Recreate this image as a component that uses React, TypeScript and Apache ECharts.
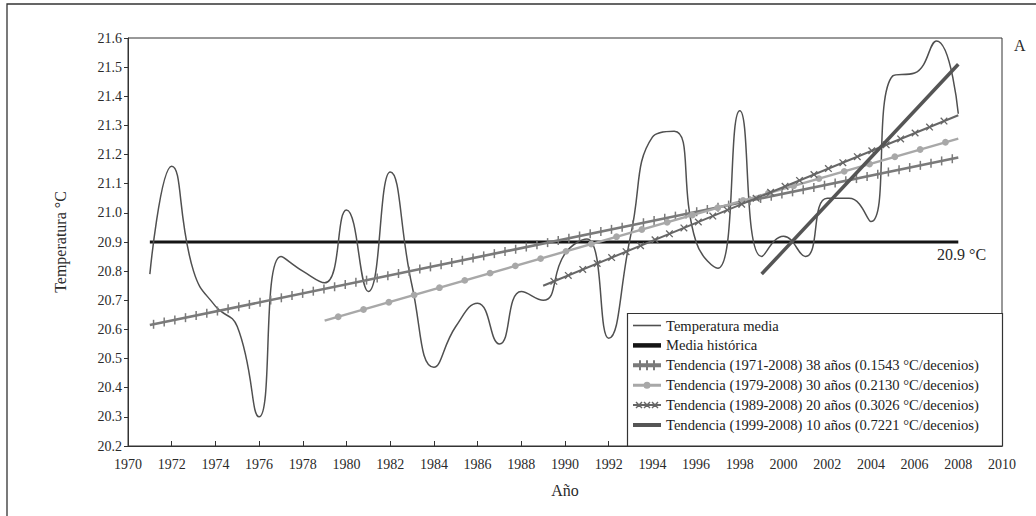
import React, { useEffect, useRef } from "react";
import * as echarts from "echarts";

const years = [1971, 1972, 1973, 1974, 1975, 1976, 1977, 1978, 1979, 1980, 1981, 1982, 1983, 1984, 1985, 1986, 1987, 1988, 1989, 1990, 1991, 1992, 1993, 1994, 1995, 1996, 1997, 1998, 1999, 2000, 2001, 2002, 2003, 2004, 2005, 2006, 2007, 2008];
const temps = [20.79, 21.16, 20.8, 20.68, 20.61, 20.3, 20.85, 20.8, 20.76, 21.01, 20.73, 21.14, 20.75, 20.47, 20.61, 20.69, 20.55, 20.73, 20.7, 20.86, 20.91, 20.57, 20.92, 21.26, 21.28, 20.9, 20.81, 21.35, 20.85, 20.92, 20.85, 21.05, 21.05, 20.97, 21.47, 21.48, 21.59, 21.34];
const mediaHistorica = [[1971, 20.9], [2008, 20.9]];
const trend1 = [1971, 20.615, 2008, 21.19];
const trend2 = [1979, 20.63, 2008, 21.255];
const trend3 = [1989, 20.75, 2008, 21.335];
const trend4 = [[1999, 20.79], [2008, 21.51]];

const names = [
  "Temperatura media",
  "Media histórica",
  "Tendencia (1971-2008) 38 años (0.1543 °C/decenios)",
  "Tendencia (1979-2008) 30 años (0.2130 °C/decenios)",
  "Tendencia (1989-2008) 20 años (0.3026 °C/decenios)",
  "Tendencia (1999-2008) 10 años (0.7221 °C/decenios)",
];

const FONT = "'Liberation Serif', 'DejaVu Serif', serif";

const cross = (cx: number, cy: number) =>
  `M${cx - 3.5},${cy - 2.5}L${cx - 2.5},${cy - 3.5}L${cx + 3.5},${cy + 2.5}L${cx + 2.5},${cy + 3.5}Z` +
  `M${cx + 2.5},${cy - 3.5}L${cx + 3.5},${cy - 2.5}L${cx - 2.5},${cy + 3.5}L${cx - 3.5},${cy + 2.5}Z`;

const icons = [
  "path://M0,0H28V1.6H0Z",
  "path://M0,0H28V4.5H0Z",
  "path://M0,3H28V7H0Z M6,0H8V10H6Z M13,0H15V10H13Z M20,0H22V10H20Z",
  "path://M0,3.5H28V6.5H0Z M10.5,5A3.5,3.5 0 1 1 17.5,5A3.5,3.5 0 1 1 10.5,5Z",
  "path://M0,4H28V6H0Z" + cross(6, 5) + cross(14, 5) + cross(22, 5),
  "path://M0,0H28V4H0Z",
];
const colors = ["#505050", "#151515", "#7a7a7a", "#a8a8a8", "#666666", "#555555"];

function makeRender(kind: string, color: string, lineWidth: number, offset: number, step: number) {
  return (params: any, api: any) => {
    const p1 = api.coord([api.value(0), api.value(1)]);
    const p2 = api.coord([api.value(2), api.value(3)]);
    const children: any[] = [
      { type: "line", shape: { x1: p1[0], y1: p1[1], x2: p2[0], y2: p2[1] }, style: { stroke: color, lineWidth } },
    ];
    const dx = p2[0] - p1[0];
    const dy = p2[1] - p1[1];
    for (let x = p1[0] + offset; x <= p2[0] - 1; x += step) {
      const y = p1[1] + ((x - p1[0]) / dx) * dy;
      if (kind === "tick") {
        children.push({ type: "line", shape: { x1: x, y1: y - 4.5, x2: x, y2: y + 4.5 }, style: { stroke: color, lineWidth: 1.5 } });
      } else if (kind === "dot") {
        children.push({ type: "circle", shape: { cx: x, cy: y, r: 3.4 }, style: { fill: color } });
      } else {
        children.push({ type: "line", shape: { x1: x - 3.3, y1: y - 3.3, x2: x + 3.3, y2: y + 3.3 }, style: { stroke: color, lineWidth: 1.3 } });
        children.push({ type: "line", shape: { x1: x - 3.3, y1: y + 3.3, x2: x + 3.3, y2: y - 3.3 }, style: { stroke: color, lineWidth: 1.3 } });
      }
    }
    return { type: "group", children };
  };
}

export default function App() {
  const ref = useRef<HTMLDivElement>(null);
  useEffect(() => {
    if (!ref.current) return;
    const chart = echarts.init(ref.current, null, { renderer: "svg" });
    const labelStyle = { fontFamily: FONT, fontSize: 14, color: "#2a2a2a" };
    chart.setOption({
      animation: false,
      backgroundColor: "#ffffff",
      grid: { left: 128, right: 34, top: 38, bottom: 70, show: true, borderColor: "#333", borderWidth: 1 },
      xAxis: {
        type: "value",
        min: 1970,
        max: 2010,
        interval: 2,
        name: "Año",
        nameLocation: "middle",
        nameGap: 36,
        nameTextStyle: { fontFamily: FONT, fontSize: 16, color: "#2a2a2a" },
        axisLine: { show: true, lineStyle: { color: "#333", width: 1 } },
        axisTick: { show: true, inside: true, length: 5, lineStyle: { color: "#333" } },
        axisLabel: { ...labelStyle, margin: 11, formatter: (v: number) => String(v) },
        splitLine: { show: false },
      },
      yAxis: {
        type: "value",
        min: 20.2,
        max: 21.6,
        interval: 0.1,
        name: "Temperatura °C",
        nameLocation: "middle",
        nameRotate: 90,
        nameGap: 60,
        nameTextStyle: { fontFamily: FONT, fontSize: 16, color: "#2a2a2a" },
        axisLine: { show: true, lineStyle: { color: "#333", width: 1 } },
        axisTick: { show: true, inside: false, length: 4, lineStyle: { color: "#333" } },
        axisLabel: { ...labelStyle, margin: 6, formatter: (v: number) => v.toFixed(1) },
        splitLine: { show: false },
      },
      legend: {
        orient: "vertical",
        left: 633,
        top: 318,
        itemWidth: 28,
        itemHeight: 10,
        itemGap: 4.9,
        padding: 0,
        z: 10,
        itemStyle: { borderWidth: 0 },
        textStyle: { fontFamily: FONT, fontSize: 14.6, color: "#222", lineHeight: 14 },
        data: names.map((n, i) => ({ name: n, icon: icons[i], itemStyle: { color: colors[i], borderWidth: 0 } })),
      },
      graphic: [
        { type: "rect", shape: { x: 7, y: 4, width: 1200, height: 700 }, style: { fill: "none", stroke: "#333", lineWidth: 1.3 }, z: 1 },
        { type: "rect", shape: { x: 627.5, y: 313.5, width: 375, height: 132.5 }, style: { fill: "#fff", stroke: "#333", lineWidth: 1.2 }, z: 5 },
        { type: "text", x: 937, y: 254, style: { text: "20.9 °C", fontFamily: FONT, fontSize: 16, fill: "#2a2a2a", verticalAlign: "middle" }, z: 6 },
        { type: "text", x: 1014, y: 45, style: { text: "A", fontFamily: FONT, fontSize: 16, fill: "#2a2a2a", verticalAlign: "middle" }, z: 6 },
      ],
      series: [
        {
          name: names[1],
          type: "line",
          data: mediaHistorica,
          symbol: "none",
          lineStyle: { color: colors[1], width: 3 },
          itemStyle: { color: colors[1] },
          z: 2,
        },
        {
          name: names[0],
          type: "line",
          data: years.map((y, i) => [y, temps[i]]),
          smooth: 0.5,
          symbol: "none",
          lineStyle: { color: colors[0], width: 1.5 },
          itemStyle: { color: colors[0] },
          z: 3,
        },
        {
          name: names[2],
          type: "custom",
          data: [trend1],
          encode: { x: [0, 2], y: [1, 3] },
          itemStyle: { color: colors[2] },
          renderItem: makeRender("tick", colors[2], 2.6, 3.7, 10.65),
          z: 4,
        },
        {
          name: names[3],
          type: "custom",
          data: [trend2],
          encode: { x: [0, 2], y: [1, 3] },
          itemStyle: { color: colors[3] },
          renderItem: makeRender("dot", colors[3], 2.4, 13.6, 25.3),
          z: 4,
        },
        {
          name: names[4],
          type: "custom",
          data: [trend3],
          encode: { x: [0, 2], y: [1, 3] },
          itemStyle: { color: colors[4] },
          renderItem: makeRender("cross", colors[4], 2, 10.7, 14.45),
          z: 4,
        },
        {
          name: names[5],
          type: "line",
          data: trend4,
          symbol: "none",
          lineStyle: { color: colors[5], width: 3.5 },
          itemStyle: { color: colors[5] },
          z: 4,
        },
      ],
    });
    return () => chart.dispose();
  }, []);
  return <div ref={ref} style={{ position: "absolute", left: 0, top: 0, width: 1036, height: 516 }} />;
}
